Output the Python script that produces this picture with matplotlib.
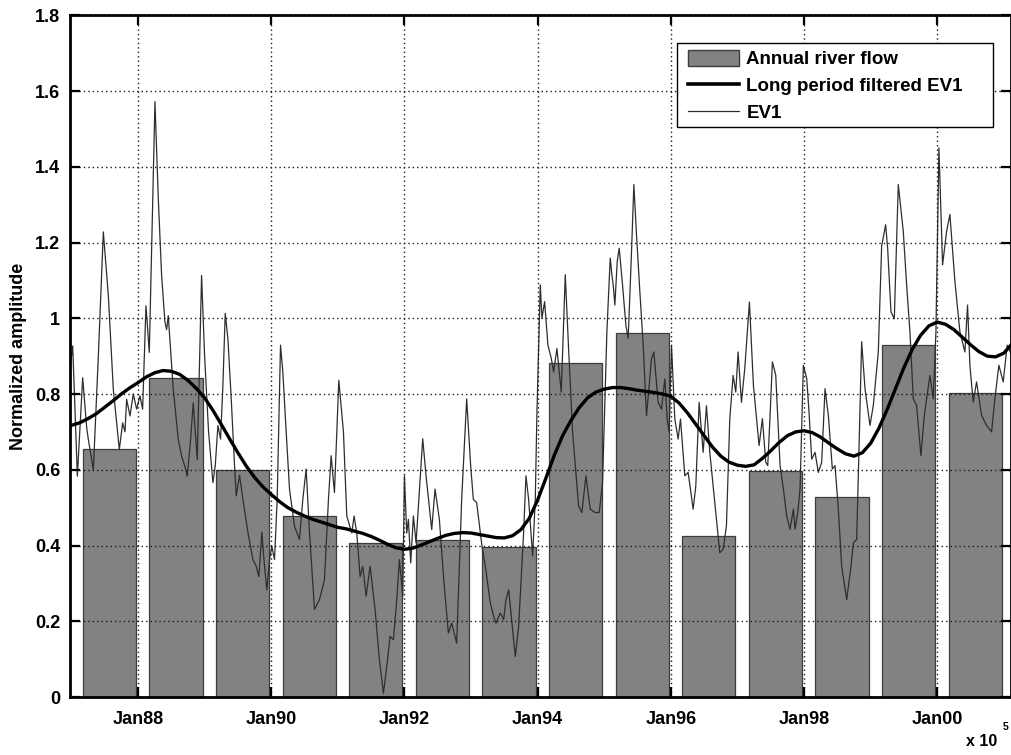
import matplotlib
matplotlib.use("Agg")
import matplotlib.pyplot as plt
from matplotlib.patches import Patch, Rectangle
from matplotlib.lines import Line2D
from matplotlib.ticker import FormatStrFormatter

plt.rcParams['font.family'] = ['Liberation Sans', 'DejaVu Sans']
plt.rcParams['font.weight'] = 'bold'

# annual river flow (one bar per year)
flow_years = [1987, 1988, 1989, 1990, 1991, 1992, 1993,
              1994, 1995, 1996, 1997, 1998, 1999, 2000]
flow_values = [0.655, 0.843, 0.599, 0.477, 0.406, 0.414, 0.395,
               0.883, 0.960, 0.424, 0.597, 0.528, 0.930, 0.803]

# EV1 (raw)
ev1_years = [
    1986.98, 1987.02, 1987.09, 1987.17, 1987.23, 1987.255, 1987.33, 1987.405,
    1987.48, 1987.555, 1987.63, 1987.72, 1987.77, 1987.805, 1987.83, 1987.88,
    1987.93, 1987.98, 1988.03, 1988.07, 1988.12, 1988.17, 1988.215, 1988.255,
    1988.305, 1988.355, 1988.405, 1988.43, 1988.455, 1988.53, 1988.605, 1988.655,
    1988.705, 1988.74, 1988.79, 1988.83, 1988.89, 1988.955,
    1989.0, 1989.06, 1989.125, 1989.16, 1989.2, 1989.24, 1989.275, 1989.31,
    1989.35, 1989.40, 1989.45, 1989.475, 1989.525, 1989.575, 1989.65, 1989.725,
    1989.775, 1989.815, 1989.86, 1989.90, 1989.935, 1989.975, 1990.01, 1990.05,
    1990.09, 1990.14, 1990.175, 1990.225, 1990.275, 1990.35, 1990.425, 1990.475,
    1990.525, 1990.575, 1990.65, 1990.725, 1990.80, 1990.86, 1990.90, 1990.95,
    1991.015, 1991.085, 1991.135, 1991.21, 1991.245, 1991.285, 1991.335, 1991.375,
    1991.425, 1991.485, 1991.56, 1991.625, 1991.685, 1991.735, 1991.785, 1991.835,
    1991.885, 1991.925, 1991.975, 1992.0, 1992.035, 1992.06, 1992.095, 1992.135,
    1992.175, 1992.275, 1992.325, 1992.41, 1992.46, 1992.525, 1992.595, 1992.66,
    1992.71, 1992.785, 1992.86, 1992.935, 1992.995, 1993.035, 1993.085,
    1993.165, 1993.215, 1993.29, 1993.34, 1993.375, 1993.44, 1993.49, 1993.525,
    1993.565, 1993.615, 1993.665, 1993.715, 1993.79, 1993.825, 1993.865, 1993.925,
    1993.965, 1993.99, 1994.04, 1994.065, 1994.105, 1994.155, 1994.205, 1994.24,
    1994.29, 1994.355, 1994.415, 1994.465, 1994.525, 1994.615, 1994.665, 1994.725,
    1994.79, 1994.865, 1994.925, 1994.975, 1995.04, 1995.09, 1995.115,
    1995.135, 1995.16, 1995.195, 1995.225, 1995.275, 1995.325, 1995.36, 1995.41,
    1995.445, 1995.485, 1995.535, 1995.585, 1995.635, 1995.71, 1995.745, 1995.81,
    1995.86, 1995.91, 1995.945, 1995.975, 1996.01, 1996.06, 1996.11, 1996.145,
    1996.21, 1996.26, 1996.335, 1996.375, 1996.425, 1996.485, 1996.535, 1996.585,
    1996.66, 1996.735, 1996.785, 1996.835, 1996.885, 1996.935, 1996.975, 1997.01,
    1997.06, 1997.11,
    1997.18, 1997.24, 1997.325, 1997.375, 1997.425, 1997.455, 1997.49, 1997.525,
    1997.575, 1997.64, 1997.69, 1997.74, 1997.79, 1997.84, 1997.865, 1997.905,
    1997.94, 1997.99, 1998.04, 1998.075, 1998.115, 1998.165, 1998.215, 1998.265,
    1998.315, 1998.365, 1998.425, 1998.465, 1998.515, 1998.565, 1998.64, 1998.705,
    1998.74, 1998.79, 1998.825, 1998.865, 1998.915, 1998.99, 1999.04, 1999.115,
    1999.165, 1999.225, 1999.255, 1999.305, 1999.355, 1999.415, 1999.49, 1999.54,
    1999.59, 1999.64, 1999.69, 1999.755, 1999.805, 1999.84, 1999.89, 1999.94,
    1999.98, 2000.025, 2000.08, 2000.14, 2000.19, 2000.265, 2000.34, 2000.415,
    2000.455, 2000.49, 2000.54, 2000.59, 2000.665, 2000.74, 2000.815, 2000.865,
    2000.925, 2000.99, 2001.05, 2001.125,
]
ev1_values = [
    0.865, 0.927, 0.583, 0.843, 0.711, 0.680, 0.600, 0.900,
    1.228, 1.060, 0.812, 0.653, 0.724, 0.700, 0.786, 0.742,
    0.800, 0.760, 0.795, 0.760, 1.033, 0.910, 1.254, 1.572,
    1.316, 1.113, 0.990, 0.970, 1.007, 0.812, 0.680, 0.636,
    0.609, 0.583, 0.680, 0.777, 0.627, 1.113,
    0.902, 0.700, 0.566, 0.610, 0.717, 0.681, 0.823, 1.013,
    0.946, 0.788, 0.610, 0.531, 0.585, 0.523, 0.435, 0.363,
    0.345, 0.318, 0.435, 0.345, 0.283, 0.363, 0.398, 0.363,
    0.522, 0.929, 0.858, 0.700, 0.549, 0.451, 0.416, 0.522,
    0.602, 0.435, 0.231, 0.257, 0.310, 0.522, 0.637, 0.540,
    0.836, 0.700, 0.478, 0.433, 0.478, 0.433, 0.318, 0.345,
    0.266, 0.345, 0.231, 0.098, 0.010, 0.080, 0.160, 0.151,
    0.257, 0.363, 0.266, 0.584, 0.433, 0.469, 0.354, 0.478,
    0.407, 0.682, 0.584, 0.442, 0.549, 0.469, 0.301, 0.169,
    0.195, 0.142, 0.522, 0.787, 0.610, 0.522, 0.513,
    0.398, 0.345, 0.248, 0.213, 0.195, 0.222, 0.204, 0.257,
    0.283, 0.195, 0.107, 0.186, 0.435, 0.584, 0.522, 0.372,
    0.522, 0.752, 1.088, 1.000, 1.044, 0.929, 0.894, 0.858,
    0.920, 0.805, 1.115, 0.920, 0.700, 0.505, 0.487, 0.584,
    0.496, 0.487, 0.487, 0.566, 0.964, 1.159, 1.115,
    1.088, 1.035, 1.150, 1.185, 1.088, 0.982, 0.947, 1.176,
    1.353, 1.220, 1.070, 0.929, 0.743, 0.893, 0.911, 0.778,
    0.760, 0.840, 0.734, 0.699, 0.929, 0.734, 0.681, 0.734,
    0.584, 0.593, 0.496, 0.557, 0.778, 0.646, 0.769, 0.646,
    0.514, 0.381, 0.390, 0.452, 0.734, 0.849, 0.805, 0.911,
    0.778, 0.867,
    1.043, 0.823, 0.664, 0.735, 0.620, 0.611, 0.743, 0.885,
    0.850, 0.611, 0.549, 0.478, 0.443, 0.496, 0.443, 0.487,
    0.549, 0.876, 0.841, 0.752, 0.628, 0.646, 0.593, 0.620,
    0.814, 0.743, 0.602, 0.611, 0.496, 0.345, 0.257, 0.345,
    0.407, 0.416, 0.654, 0.938, 0.814, 0.717, 0.770, 0.911,
    1.190, 1.247, 1.185, 1.017, 0.999, 1.353, 1.229, 1.088,
    0.964, 0.787, 0.770, 0.637, 0.743, 0.787, 0.849, 0.787,
    0.964, 1.450, 1.141, 1.229, 1.274, 1.097, 0.964, 0.911,
    1.035, 0.876, 0.779, 0.832, 0.744, 0.717, 0.700, 0.787,
    0.876, 0.832, 0.929, 0.900,
]

# long period filtered EV1, read every 1/8 year
filt_years = [1986.98] + [1987.125 + 0.125 * i for i in range(112)] + [2001.11]
filt_values = [
    0.716,
    0.724, 0.735, 0.748, 0.765, 0.782, 0.800, 0.816, 0.830,
    0.845, 0.856, 0.862, 0.860, 0.852, 0.836, 0.815, 0.790,
    0.757, 0.720, 0.682, 0.645, 0.610, 0.580, 0.555, 0.535,
    0.516, 0.500, 0.488, 0.478, 0.469, 0.462, 0.455, 0.448,
    0.444, 0.438, 0.432, 0.424, 0.414, 0.403, 0.394, 0.390,
    0.393, 0.401, 0.410, 0.419, 0.427, 0.432, 0.434, 0.433,
    0.429, 0.425, 0.421, 0.420, 0.426, 0.442, 0.472, 0.520,
    0.578, 0.638, 0.690, 0.730, 0.764, 0.790, 0.805, 0.813,
    0.817, 0.817, 0.814, 0.810, 0.807, 0.804, 0.800, 0.794,
    0.776, 0.750, 0.720, 0.690, 0.660, 0.636, 0.620, 0.612,
    0.609, 0.613, 0.630, 0.650, 0.672, 0.690, 0.700, 0.703,
    0.698, 0.686, 0.670, 0.655, 0.642, 0.636, 0.645, 0.670,
    0.710, 0.760, 0.815, 0.870, 0.918, 0.955, 0.980, 0.990,
    0.984, 0.970, 0.950, 0.930, 0.912, 0.900, 0.898, 0.908,
    0.930,
]

tick_years = [1988, 1990, 1992, 1994, 1996, 1998, 2000]
tick_labels = ['Jan88', 'Jan90', 'Jan92', 'Jan94', 'Jan96', 'Jan98', 'Jan00']

fig = plt.figure(figsize=(10.12, 7.55), dpi=100)
ax = fig.add_axes([0.0692, 0.0768, 0.93, 0.903])

ax.bar([y + 0.57 for y in flow_years], flow_values, width=0.80,
       color='#828282', edgecolor='#3c3c3c', linewidth=0.9, zorder=1)
ax.plot(ev1_years, ev1_values, color='#2e2e2e', linewidth=0.9, zorder=2)
ax.plot(filt_years, filt_values, color='black', linewidth=2.4, zorder=3,
        solid_joinstyle='round')

ax.set_xlim(1986.98, 2001.11)
ax.set_ylim(0, 1.8)
ax.set_xticks(tick_years)
ax.set_xticklabels(tick_labels)
ax.set_yticks([0.2 * i for i in range(10)])
ax.yaxis.set_major_formatter(FormatStrFormatter('%g'))

ax.set_axisbelow(False)
ax.grid(True, color='#1a1a1a', linestyle=(0, (1, 2.2)), linewidth=1.0)
ax.tick_params(direction='in', length=7, width=1.6, top=True, right=True,
               labelsize=13)
ax.tick_params(axis='y', pad=7)
ax.tick_params(axis='x', pad=10)
for s in ax.spines.values():
    s.set_linewidth(2.0)

ax.set_ylabel('Normalized amplitude', fontsize=13, fontweight='bold', labelpad=6)

# legend box (MATLAB style, extra room on the right)
ax.add_patch(Rectangle((0.645, 0.836), 0.336, 0.123, transform=ax.transAxes,
                       facecolor='white', edgecolor='black', linewidth=1.0,
                       zorder=4))
handles = [Patch(facecolor='#828282', edgecolor='#3c3c3c'),
           Line2D([], [], color='black', linewidth=2.6),
           Line2D([], [], color='#2e2e2e', linewidth=0.9)]
labels = ['Annual river flow', 'Long period filtered EV1', 'EV1']
leg = ax.legend(handles, labels, loc='upper left', bbox_to_anchor=(0.653, 0.955),
                frameon=False, prop={'size': 13.5, 'weight': 'bold'},
                handlelength=2.7, handleheight=0.95, labelspacing=0.45,
                borderpad=0.2, handletextpad=0.4, borderaxespad=0)
leg.set_zorder(5)

fig.text(0.955, 0.012, 'x 10', fontsize=11.5, fontweight='bold')
fig.text(0.991, 0.033, '5', fontsize=7.5, fontweight='bold')

fig.savefig('out.png', dpi=100)
